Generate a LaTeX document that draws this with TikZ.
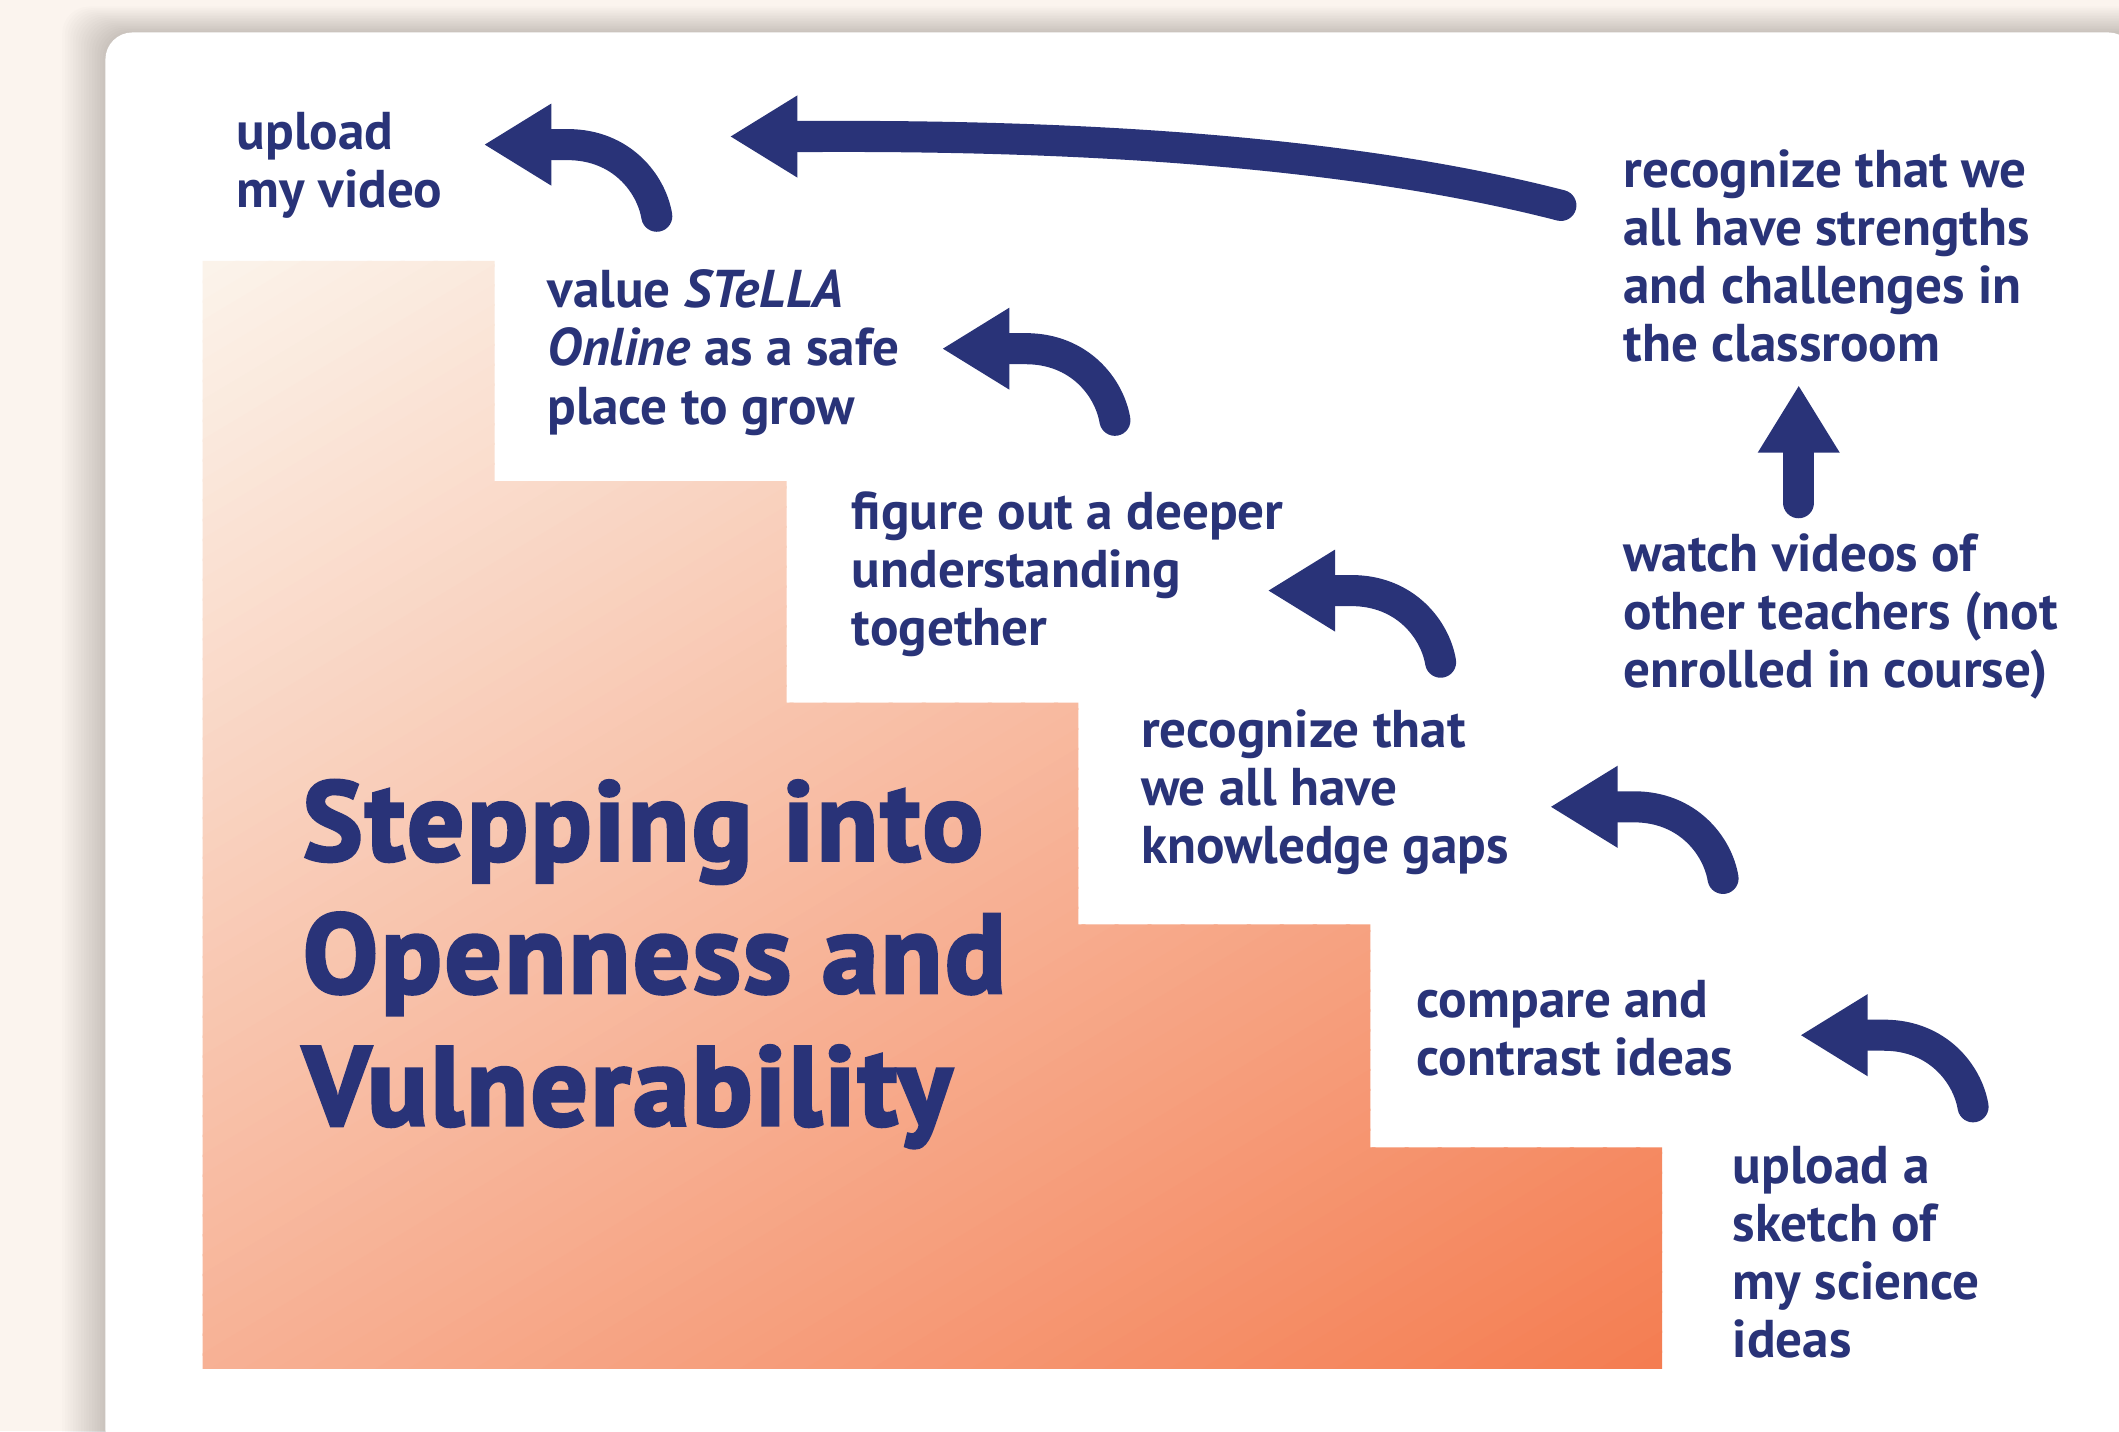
\documentclass[tikz,border=0pt]{standalone}
\usepackage{fontspec}
\setmainfont{PT Sans}
\newfontfamily\titlefont{PT Sans}[LetterSpace=3, BoldFeatures={FakeBold=3.2}]
\usetikzlibrary{arrows.meta,calc}

\definecolor{navy}{HTML}{293378}
\definecolor{paper}{HTML}{FBF4EE}
\definecolor{stairlight}{HTML}{FBF3EA}
\definecolor{stairdark}{HTML}{F47C50}

% struts that fix the height of the first line of each text block
\newcommand{\labstrut}{\rule{0pt}{0.64cm}}
\newcommand{\ttlstrut}{\rule{0pt}{1.328cm}}

\begin{document}
\begin{tikzpicture}[x=0.02cm, y=-0.02cm,
  lab/.style={anchor=north west, inner sep=0pt, align=left, text=navy,
    font=\fontsize{22.4pt}{24.45pt}\selectfont\bfseries},
  ttl/.style={anchor=north west, inner sep=0pt, align=left, text=navy,
    font=\titlefont\fontsize{47pt}{55.8pt}\selectfont\bfseries},
  curly/.style={draw=navy, line width=0.46cm, line cap=round,
    -{Triangle[length=1cm, width=1.14cm]}},
]
\useasboundingbox (0,0) rectangle (1568,1059);

% page background
\fill[paper] (0,0) rectangle (1568,1059);

% soft shadow around the card
\foreach \k in {1,...,16} {
  \fill[black, opacity=0.012, rounded corners=0.4cm]
    ({78-2*\k},{24-1.2*\k}) rectangle (1600,1100);
}

% white card
\fill[white, rounded corners=0.4cm] (78,24) rectangle (1580,1078);

% staircase with diagonal gradient
\begin{scope}
  \clip (150,193) -- (366,193) -- (366,356) -- (582,356) -- (582,520)
     -- (798,520) -- (798,684) -- (1014,684) -- (1014,849) -- (1230,849)
     -- (1230,1013) -- (150,1013) -- cycle;
  \begin{scope}[shift={(150,193)}, rotate=-59]
    \foreach \i in {0,...,99} {
      \fill[stairdark!\i!stairlight] ({\i*12.6},-1500) rectangle ({\i*12.6+14},1500);
    }
  \end{scope}
\end{scope}

% title
\node[ttl] (title) at (224,569.6) {\ttlstrut Stepping into\\Openness and\\Vulnerability};

% step labels
\node[lab] (upvid)    at (175,78.5)   {\labstrut upload\\my video};
\node[lab] (value)    at (405,195.5)  {\labstrut value \textit{STeLLA}\\\textit{Online} as a safe\\place to grow};
\node[lab] (figure)   at (630,359.5)  {\labstrut figure out a deeper\\understanding\\together};
\node[lab] (gaps)     at (844,520.5)  {\labstrut recognize that\\we all have\\knowledge gaps};
\node[lab] (compare)  at (1048,720.5) {\labstrut compare and\\contrast ideas};
\node[lab] (sketch)   at (1282,843.5) {\labstrut upload a\\sketch of\\my science\\ideas};
\node[lab] (strength) at (1201,106.5) {\labstrut recognize that we\\all have strengths\\and challenges in\\the classroom};
\node[lab] (watch)    at (1201,390.5) {\labstrut watch videos of\\other teachers (not\\enrolled in course)};

% arrow ends: tails (t) and heads (h)
\coordinate (h1) at (358,107);  \coordinate (t1) at (486,160);
\coordinate (h2) at (697,258);  \coordinate (t2) at (825,311);
\coordinate (h3) at (938,437);  \coordinate (t3) at (1066,490);
\coordinate (h4) at (1147,597); \coordinate (t4) at (1275,650);
\coordinate (h5) at (1332,766); \coordinate (t5) at (1460,819);
\coordinate (h6) at (540,101);  \coordinate (t6) at (1155,152);
\coordinate (h7) at (1331,285); \coordinate (t7) at (1331,372);

% curved step arrows
\foreach \n in {1,...,5} {
  \draw[curly] (t\n) .. controls ($(t\n)+(-4,-24)$) and ($(h\n)+(102,0)$)
    .. ($(h\n)+(62,0)$) -- (h\n);
}

% long arrow across the top
\draw[curly] (t6) .. controls ($(t6)+(-155,-40)$) and ($(h6)+(260,-1)$)
  .. ($(h6)+(62,0)$) -- (h6);

% short upward arrow
\draw[curly] (t7) -- (h7);

\end{tikzpicture}
\end{document}
